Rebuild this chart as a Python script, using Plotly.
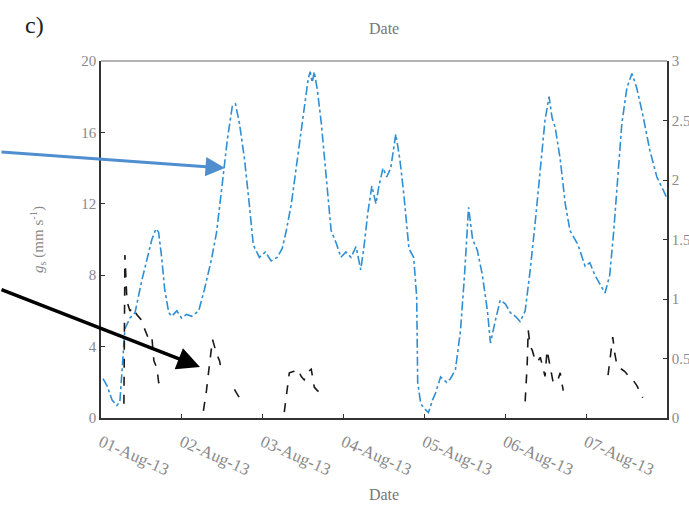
import pandas as pd
import plotly.graph_objects as go

# Blue series: hours since 01-Aug-13 00:00 and g_s (mm s-1), left axis
blue_hours = [0.6, 1.8, 3.3, 4.7, 5.6, 6.5, 7.1, 8.6, 10.1, 12.1, 13.6, 15.1, 16.3, 17.1, 18.0, 18.9,
              20.1, 21.0, 22.5, 23.9, 25.4, 26.9, 29.0, 30.7, 32.8, 34.3, 35.8, 37.5, 39.0, 39.9, 41.1,
              42.6, 44.0, 45.2, 47.0, 48.8, 50.5, 52.3, 53.8, 55.0, 56.5, 57.9, 59.4, 60.6, 61.5, 62.1,
              62.7, 63.3, 64.2, 65.4, 66.8, 68.3, 69.8, 71.2, 72.7, 74.2, 75.7, 77.1, 78.0, 79.2, 80.4,
              81.6, 82.5, 83.7, 84.8, 86.0, 87.5, 88.7, 89.9, 91.4, 92.8, 93.7, 94.0, 94.9, 96.1, 97.2,
              98.4, 99.3, 100.8, 102.6, 103.7, 105.2, 106.7, 107.9, 109.1, 110.3, 111.7, 113.2, 114.7,
              115.6, 117.1, 118.5, 120.0, 121.5, 123.0, 124.4, 125.9, 127.4, 128.9, 130.4, 131.8, 133.0,
              133.9, 134.8, 136.3, 137.8, 139.2, 141.6, 143.7, 145.1, 146.6, 148.1, 149.6, 151.0, 152.2,
              153.4, 154.6, 156.1, 157.6, 159.0, 160.8, 162.9, 165.0, 166.8, 168.0]
blue_vals = [2.2, 1.8, 1.0, 0.7, 0.9, 3.5, 5.0, 5.6, 5.9, 7.7, 8.9, 10.0, 10.6, 10.4, 9.0, 7.2,
             5.9, 5.7, 6.0, 5.6, 5.8, 5.7, 6.0, 7.2, 8.9, 10.4, 12.8, 15.6, 17.5, 17.6, 16.5,
             14.5, 12.0, 9.7, 9.0, 9.3, 8.8, 9.0, 9.5, 10.5, 12.0, 14.0, 16.0, 18.0, 19.0, 19.4,
             18.8, 19.4, 18.4, 16.5, 13.5, 10.5, 9.8, 9.0, 9.3, 9.0, 9.6, 8.3, 9.5, 11.5, 13.0,
             12.0, 13.0, 14.0, 13.5, 14.0, 15.9, 14.5, 12.5, 9.5, 9.0, 6.8, 2.0, 0.8, 0.5, 0.3,
             1.0, 1.4, 2.3, 2.0, 2.2, 2.7, 4.9, 8.0, 11.8, 10.0, 9.4, 8.0, 6.0,
             4.2, 5.5, 6.6, 6.4, 5.9, 5.7, 5.4, 6.0, 8.3, 11.0, 14.0, 16.7, 18.0,
             16.8, 16.3, 14.5, 12.0, 10.5, 9.7, 8.5, 8.7, 8.0, 7.5, 7.0, 8.0, 10.5,
             13.5, 16.5, 18.5, 19.3, 18.5, 17.0, 15.0, 13.5, 12.8, 12.3]

# Black series: hours since 01-Aug-13 00:00 and values on the right axis (None = gap)
black_hours = [6.8, 7.1, 7.7, 8.6, 9.5, 10.6, 11.8, 13.0, 14.2, 15.1, 15.7, 16.6, 17.1, 18.0, 18.6, 18.7,
               30.4, 31.3, 32.2, 33.1, 33.7, 34.3, 35.2, 35.8, 35.9,
               39.6, 40.5, 41.7, 41.8,
               54.4, 55.3, 55.9, 57.1, 58.5, 59.4, 60.3, 61.5, 62.4, 63.3, 64.2, 65.3, 65.4,
               125.9, 126.5, 126.8, 127.4, 128.0, 128.9, 129.5, 130.4, 131.0, 131.8, 132.4, 133.3,
               134.2, 135.4, 136.3, 137.2, 137.3,
               150.5, 151.0, 151.9, 152.5, 153.1, 154.0, 155.5, 156.4, 157.9, 159.1, 160.0, 160.8]
black_vals = [0.12, 1.37, 0.98, 0.90, 0.93, 0.87, 0.83, 0.75, 0.66, 0.68, 0.48, 0.42, 0.30, 0.26, 0.24, None,
              0.06, 0.23, 0.45, 0.66, 0.60, 0.54, 0.48, 0.38, None,
              0.24, 0.20, 0.14, None,
              0.05, 0.23, 0.38, 0.39, 0.41, 0.35, 0.32, 0.39, 0.41, 0.26, 0.23, 0.21, None,
              0.14, 0.45, 0.74, 0.60, 0.57, 0.48, 0.47, 0.51, 0.44, 0.35, 0.57, 0.42,
              0.30, 0.30, 0.38, 0.23, None,
              0.36, 0.48, 0.68, 0.54, 0.45, 0.42, 0.39, 0.36, 0.32, 0.27, 0.21, 0.17]

tick_dates = ["2013-08-01", "2013-08-02", "2013-08-03", "2013-08-04", "2013-08-05", "2013-08-06", "2013-08-07"]
tick_labels = ["01-Aug-13", "02-Aug-13", "03-Aug-13", "04-Aug-13", "05-Aug-13", "06-Aug-13", "07-Aug-13"]
left_ticks = [0, 4, 8, 12, 16, 20]
right_ticks = [0, 0.5, 1, 1.5, 2, 2.5, 3]

t0 = pd.Timestamp("2013-08-01")
blue_t = [t0 + pd.Timedelta(hours=h) for h in blue_hours]
black_t = [t0 + pd.Timedelta(hours=h) for h in black_hours]

FONT = "Liberation Serif"
GREY = "#8a8a8a"

fig = go.Figure()
fig.add_trace(go.Scatter(x=blue_t, y=blue_vals, mode="lines",
                         line=dict(color="#2f8fd2", width=1.6, dash="dashdot"), yaxis="y"))
fig.add_trace(go.Scatter(x=black_t, y=black_vals, mode="lines", connectgaps=False,
                         line=dict(color="#1a1a1a", width=1.6, dash="dash"), yaxis="y2"))

fig.update_layout(
    width=689, height=508,
    margin=dict(l=101, r=22, t=61, b=90, autoexpand=False),
    paper_bgcolor="white", plot_bgcolor="white",
    showlegend=False,
    font=dict(family=FONT, size=15, color=GREY),
    xaxis=dict(type="date", range=[t0, t0 + pd.Timedelta(days=7)], automargin=False,
               tickvals=tick_dates, ticktext=tick_labels, tickangle=24,
               ticks="inside", ticklen=4, tickcolor="#333", ticklabelstandoff=6,
               showline=True, linecolor="#333", linewidth=1.5, showgrid=False, zeroline=False,
               title=dict(text="Date", font=dict(size=16, color="#777"), standoff=10),
               tickfont=dict(size=17, color=GREY)),
    yaxis=dict(range=[0, 20], tickvals=left_ticks, ticks="inside", ticklen=4, tickcolor="#333",
               automargin=False,
               showline=True, linecolor="#333", linewidth=1.5, showgrid=False, zeroline=False,
               title=dict(text="<i>g</i><sub>s</sub> (mm s<sup>-1</sup>)", font=dict(size=15, color="#888"),
                          standoff=34),
               tickfont=dict(size=15, color=GREY)),
    yaxis2=dict(range=[0, 3], tickvals=right_ticks, overlaying="y", side="right",
                ticks="inside", ticklen=4, tickcolor="#333", automargin=False,
                showline=True, linecolor="#333", linewidth=1.5, showgrid=False, zeroline=False,
                tickfont=dict(size=15, color=GREY)),
)

# grey top frame line
fig.add_shape(type="line", xref="paper", yref="paper", x0=0, x1=1, y0=1, y1=1,
              line=dict(color="#9a9a9a", width=1.5))

# remnant labels from the panel above
fig.add_annotation(text="c)", xref="paper", yref="paper", x=-0.118, y=1.10, xanchor="center",
                   yanchor="middle", showarrow=False, font=dict(family=FONT, size=24, color="#222"))
fig.add_annotation(text="Date", xref="paper", yref="paper", x=0.5, y=1.092, xanchor="center",
                   yanchor="middle", showarrow=False, font=dict(family=FONT, size=16, color="#777"))

# arrows
W, H = 566, 357
def px(xp, yp):
    return (xp - 101) / W, (418 - yp) / H

bx, by = px(225, 168)
fig.add_annotation(x=bx, y=by, xref="paper", yref="paper", text="", showarrow=True,
                   ax=-225, ay=-16, arrowhead=2, arrowsize=1.3, arrowwidth=3, arrowcolor="#4f8fd0")
kx, ky = px(200, 367)
fig.add_annotation(x=kx, y=ky, xref="paper", yref="paper", text="", showarrow=True,
                   ax=-200, ay=-78, arrowhead=2, arrowsize=1.3, arrowwidth=3.5, arrowcolor="#000000")

fig.write_html("out.html")
